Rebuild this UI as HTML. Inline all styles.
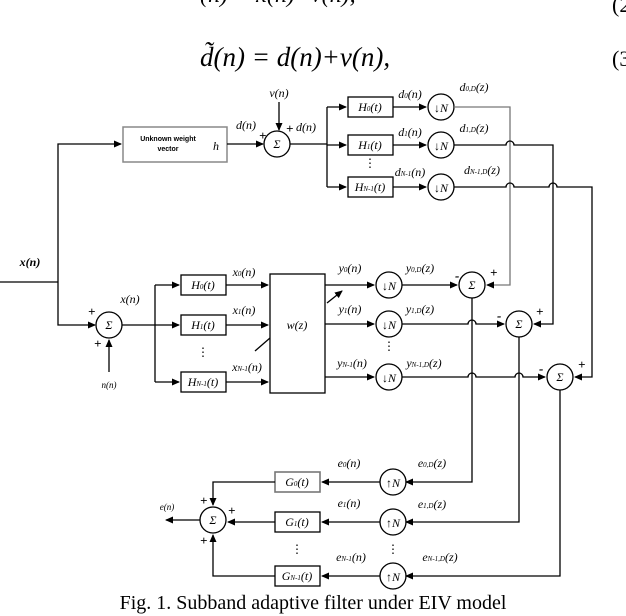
<!DOCTYPE html>
<html><head><meta charset="utf-8"><style>
body{margin:0;background:#fff;width:626px;height:616px;overflow:hidden}
svg{display:block}
text{font-family:"Liberation Serif",serif;font-style:italic;fill:#000}
.s{font-size:12px}
</style></head><body>
<svg width="626" height="616" viewBox="0 0 626 616" xmlns="http://www.w3.org/2000/svg">
<defs><marker id="a" markerWidth="8" markerHeight="8" refX="7" refY="4" orient="auto" markerUnits="userSpaceOnUse"><path d="M0,0.5 L8,4 L0,7.5z" fill="#000"/></marker></defs>
<text x="200" y="2" style="font-size:24px">(n) = x(n)+v(n),</text>
<text x="612" y="12" style="font-size:22px;font-style:normal">(2</text>
<text x="200" y="66" style="font-size:27px">d̃(n) = d(n)+v(n),</text>
<text x="612" y="66" style="font-size:22px;font-style:normal">(3</text>
<g stroke="#000" stroke-width="1.3" fill="none">
<path d="M0,282 H58 M58,282 V144 H121" marker-end="url(#a)"/>
<path d="M58,282 V325 H95" marker-end="url(#a)"/>
<rect x="123" y="127" width="104" height="35" stroke="#888" stroke-width="1.5"/>
<path d="M227,144 H263" marker-end="url(#a)"/>
<circle cx="277" cy="144" r="13"/>
<path d="M279,102 V130" marker-end="url(#a)"/>
<path d="M290,144 H327 M327,107 V187"/>
<path d="M327,107 H346" marker-end="url(#a)"/>
<path d="M327,145 H346" marker-end="url(#a)"/>
<path d="M327,187 H346" marker-end="url(#a)"/>
<rect x="348" y="97" width="45" height="20"/>
<rect x="348" y="135" width="45" height="20"/>
<rect x="348" y="177" width="45" height="20"/>
<path d="M393,107 H426" marker-end="url(#a)"/>
<path d="M393,145 H426" marker-end="url(#a)"/>
<path d="M393,187 H426" marker-end="url(#a)"/>
<circle cx="441" cy="107" r="13"/><circle cx="441" cy="145" r="13"/><circle cx="441" cy="187" r="13"/>
<path d="M454,107 H510 V285 H487" stroke="#777" marker-end="url(#a)"/>
<path d="M454,145 H506 a4,4 0 0 1 8,0 H553 V324 H534" marker-end="url(#a)"/>
<path d="M454,187 H506 a4,4 0 0 1 8,0 H549 a4,4 0 0 1 8,0 H592 V377 H575" marker-end="url(#a)"/>
<circle cx="109" cy="325" r="13"/>
<path d="M109,372 V340" marker-end="url(#a)"/>
<path d="M122,325 H155 M155,285 V382"/>
<path d="M155,285 H179" marker-end="url(#a)"/>
<path d="M155,325 H179" marker-end="url(#a)"/>
<path d="M155,382 H179" marker-end="url(#a)"/>
<rect x="181" y="275" width="45" height="20"/>
<rect x="181" y="315" width="45" height="20"/>
<rect x="181" y="372" width="45" height="20"/>
<path d="M226,285 H268" marker-end="url(#a)"/>
<path d="M226,325 H268" marker-end="url(#a)"/>
<path d="M226,382 H268" marker-end="url(#a)"/>
<rect x="270" y="274" width="55" height="119"/>
<path d="M255,351 L270,338"/>
<path d="M327,303 L342,291" marker-end="url(#a)"/>
<path d="M325,285 H374" marker-end="url(#a)"/>
<path d="M325,324 H374" marker-end="url(#a)"/>
<path d="M325,377 H374" marker-end="url(#a)"/>
<circle cx="389" cy="285" r="13"/><circle cx="389" cy="324" r="13"/><circle cx="389" cy="377" r="13"/>
<path d="M402,285 H457" marker-end="url(#a)"/>
<path d="M402,324 H468 a4,4 0 0 1 8,0 H504" marker-end="url(#a)"/>
<path d="M402,377 H468 a4,4 0 0 1 8,0 H515 a4,4 0 0 1 8,0 H545" marker-end="url(#a)"/>
<circle cx="472" cy="285" r="13"/><circle cx="519" cy="324" r="13"/><circle cx="560" cy="377" r="13"/>
<path d="M472,298 V482 H406" marker-end="url(#a)"/>
<path d="M519,337 V522 H406" marker-end="url(#a)"/>
<path d="M560,390 V576 H406" marker-end="url(#a)"/>
<circle cx="393" cy="482" r="13"/><circle cx="393" cy="522" r="13"/><circle cx="393" cy="576" r="13"/>
<path d="M380,482 H322" marker-end="url(#a)"/>
<path d="M380,522 H322" marker-end="url(#a)"/>
<path d="M380,576 H322" marker-end="url(#a)"/>
<rect x="275" y="472" width="45" height="20" stroke="#777" stroke-width="1.6"/>
<rect x="275" y="512" width="45" height="20"/>
<rect x="275" y="566" width="45" height="20"/>
<path d="M275,482 H213 V505" marker-end="url(#a)"/>
<path d="M275,522 H228" marker-end="url(#a)"/>
<path d="M275,576 H213 V535" marker-end="url(#a)"/>
<circle cx="213" cy="520" r="13"/>
<path d="M200,520 H166" marker-end="url(#a)"/>
</g>
<g class="s" text-anchor="middle">
<text x="168" y="141" style="font-style:normal;font-size:7px;font-weight:bold;font-family:'Liberation Sans',sans-serif">Unknown weight</text>
<text x="168" y="151" style="font-style:normal;font-size:7px;font-weight:bold;font-family:'Liberation Sans',sans-serif">vector</text>
<text x="216" y="150">h</text>
<text x="279" y="97">v(n)</text>
<text x="246" y="129">d(n)</text>
<text x="306" y="131">d(n)</text>
<text x="277" y="148">Σ</text>
<text x="370" y="111">H<tspan font-size="7">0</tspan>(t)</text>
<text x="370" y="149">H<tspan font-size="7">1</tspan>(t)</text>
<text x="370" y="191">H<tspan font-size="7">N-1</tspan>(t)</text>
<text x="410" y="98">d<tspan font-size="7">0</tspan>(n)</text>
<text x="410" y="136">d<tspan font-size="7">1</tspan>(n)</text>
<text x="410" y="176">d<tspan font-size="7">N-1</tspan>(n)</text>
<text x="474" y="91">d<tspan font-size="7">0,D</tspan>(z)</text>
<text x="474" y="132">d<tspan font-size="7">1,D</tspan>(z)</text>
<text x="482" y="174">d<tspan font-size="7">N-1,D</tspan>(z)</text>
<text x="441" y="112">↓N</text><text x="441" y="150">↓N</text><text x="441" y="192">↓N</text>
<text x="370" y="167" style="font-style:normal">⋮</text>
<text x="30" y="266" style="font-weight:bold">x(n)</text>
<text x="130" y="303">x(n)</text>
<text x="109" y="329">Σ</text>
<text x="109" y="388" style="font-size:9px">n(n)</text>
<text x="203" y="289">H<tspan font-size="7">0</tspan>(t)</text>
<text x="203" y="329">H<tspan font-size="7">1</tspan>(t)</text>
<text x="203" y="386">H<tspan font-size="7">N-1</tspan>(t)</text>
<text x="244" y="276">x<tspan font-size="7">0</tspan>(n)</text>
<text x="244" y="314">x<tspan font-size="7">1</tspan>(n)</text>
<text x="247" y="371">x<tspan font-size="7">N-1</tspan>(n)</text>
<text x="203" y="356" style="font-style:normal">⋮</text>
<text x="297" y="329">w(z)</text>
<text x="350" y="272">y<tspan font-size="7">0</tspan>(n)</text>
<text x="350" y="313">y<tspan font-size="7">1</tspan>(n)</text>
<text x="352" y="367">y<tspan font-size="7">N-1</tspan>(n)</text>
<text x="420" y="272">y<tspan font-size="7">0,D</tspan>(z)</text>
<text x="420" y="313">y<tspan font-size="7">1,D</tspan>(z)</text>
<text x="424" y="367">y<tspan font-size="7">N-1,D</tspan>(z)</text>
<text x="389" y="290">↓N</text><text x="389" y="329">↓N</text><text x="389" y="382">↓N</text>
<text x="389" y="350" style="font-style:normal">⋮</text>
<text x="472" y="289">Σ</text><text x="519" y="328">Σ</text><text x="560" y="381">Σ</text>
<text x="349" y="467">e<tspan font-size="7">0</tspan>(n)</text>
<text x="349" y="507">e<tspan font-size="7">1</tspan>(n)</text>
<text x="351" y="561">e<tspan font-size="7">N-1</tspan>(n)</text>
<text x="432" y="467">e<tspan font-size="7">0,D</tspan>(z)</text>
<text x="432" y="508">e<tspan font-size="7">1,D</tspan>(z)</text>
<text x="440" y="561">e<tspan font-size="7">N-1,D</tspan>(z)</text>
<text x="297" y="486">G<tspan font-size="7">0</tspan>(t)</text>
<text x="297" y="526">G<tspan font-size="7">1</tspan>(t)</text>
<text x="297" y="580">G<tspan font-size="7">N-1</tspan>(t)</text>
<text x="393" y="487">↑N</text><text x="393" y="527">↑N</text><text x="393" y="581">↑N</text>
<text x="297" y="553" style="font-style:normal">⋮</text><text x="393" y="553" style="font-style:normal">⋮</text>
<text x="213" y="524">Σ</text>
<text x="167" y="510" style="font-size:9px">e(n)</text>
</g>
<g style="font-style:normal;font-weight:bold;font-size:13px;font-family:'Liberation Sans',sans-serif">
<text x="259" y="140">+</text><text x="286" y="133">+</text>
<text x="88" y="316">+</text><text x="94" y="348">+</text>
<text x="455" y="280">-</text><text x="490" y="277">+</text>
<text x="497" y="320">-</text><text x="536" y="316">+</text>
<text x="539" y="373">-</text><text x="578" y="369">+</text>
<text x="200" y="505">+</text><text x="228" y="515">+</text><text x="200" y="545">+</text>
</g>
<text x="313" y="609" text-anchor="middle" style="font-style:normal;font-size:20px">Fig. 1. Subband adaptive filter under EIV model</text>
</svg>
</body></html>
